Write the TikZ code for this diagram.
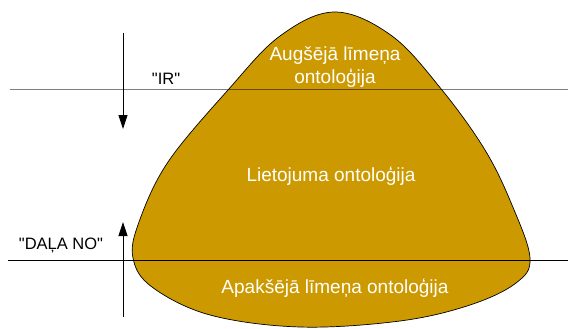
\documentclass[tikz,border=0pt]{standalone}
\usepackage{fontspec}
\setmainfont{Liberation Sans}
\newfontfamily\labelfont{Liberation Sans}[Ligatures=TeXOff]
\usetikzlibrary{arrows.meta}
\definecolor{ontogold}{RGB}{204,153,0}
\tikzset{
  levellabel/.style={text=white,font=\fontsize{19}{23}\selectfont,align=center},
  relabel/.style={font=\labelfont\fontsize{16.5}{20}\selectfont},
  relarrow/.style={-{Triangle[length=14pt,width=9pt]},line width=0.8pt},
}
\begin{document}
\begin{tikzpicture}[x=1pt,y=-1pt]
        \useasboundingbox (0,0) rectangle (568,329);
          \filldraw[fill=ontogold,draw=black,line width=0.7pt]
            plot[smooth cycle,tension=0.6] coordinates {
              (335,12) (392,36) (442,90) (485,150) (512,205) (530,258)
              (516,283) (470,305) (400,321) (300,327) (210,315)
              (152,287) (133,258) (139,222) (168,162) (228,90) (280,36)};

          \coordinate (upL) at (10,90);
          \coordinate (upR) at (568,90);
          \coordinate (loL) at (8,260);
          \coordinate (loR) at (568,260);
          \draw[black,opacity=0.5,line width=1pt] (upL) -- (upR);
          \draw[line width=0.8pt] (loL) -- (loR);

          \coordinate (isTop) at (123,33);
          \coordinate (isTip) at (123,129);
          \coordinate (partBot) at (123,317);
          \coordinate (partTip) at (123,222);
          \draw[relarrow] (isTop) -- (isTip);
          \draw[relarrow] (partBot) -- (partTip);

          \node[relabel] (is) at (166,79) {"IR"};
          \node[relabel] (partof) at (61,245) {"DAĻA NO"};

          \node[levellabel] (upper) at (335,67) {Augšējā līmeņa\\ontoloģija};
          \node[levellabel] (domain) at (331,176) {Lietojuma ontoloģija};
          \node[levellabel] (lower) at (335,288) {Apakšējā līmeņa ontoloģija};
        \end{tikzpicture}
\end{document}
